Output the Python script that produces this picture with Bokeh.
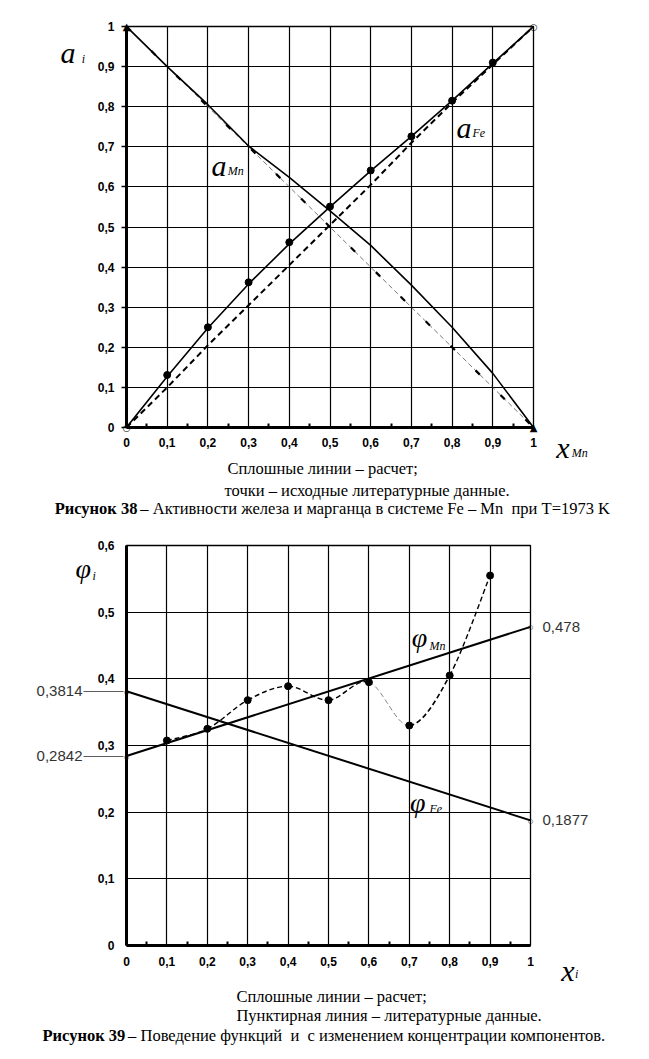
from bokeh.plotting import figure
from bokeh.layouts import column
from bokeh.models import Range1d, FixedTicker, CustomJSTickFormatter, Label, LinearAxis
from bokeh.embed import file_html
from bokeh.resources import INLINE

# ---------------- data: Figure 38 (activities) ----------------
x_mn = [0.0, 0.1, 0.2, 0.3, 0.4, 0.5, 0.6, 0.7, 0.8, 0.9, 1.0]
a_fe_calc = [0.0, 0.127, 0.248, 0.358, 0.458, 0.550, 0.640, 0.726, 0.815, 0.908, 1.0]
a_fe_ideal = [0.0, 0.100, 0.205, 0.305, 0.405, 0.505, 0.605, 0.710, 0.810, 0.905, 1.0]
a_mn_calc = [1.0, 0.900, 0.805, 0.702, 0.624, 0.540, 0.454, 0.355, 0.250, 0.135, 0.0]
a_mn_ideal = [1.0, 0.9, 0.8, 0.7, 0.6, 0.5, 0.4, 0.3, 0.2, 0.1, 0.0]
x_pts = [0.1, 0.2, 0.3, 0.4, 0.5, 0.6, 0.7, 0.8, 0.9]
a_fe_lit = [0.131, 0.250, 0.362, 0.462, 0.551, 0.641, 0.726, 0.815, 0.910]
x_open = [0.0, 1.0]
a_open = [0.0, 1.0]
x_tri = [0.0, 1.0]
a_tri = [1.0, 0.0]

# ---------------- data: Figure 39 (phi functions) ----------------
x_line = [0.0, 1.0]
phi_mn_calc = [0.2842, 0.478]
phi_fe_calc = [0.3814, 0.1877]
x_lit = [0.1, 0.2, 0.3, 0.4, 0.5, 0.6, 0.7, 0.8, 0.9]
phi_lit = [0.3075, 0.325, 0.368, 0.389, 0.368, 0.395, 0.330, 0.405, 0.555]

# ---------------- ticks ----------------
x_ticks = [0.0, 0.1, 0.2, 0.3, 0.4, 0.5, 0.6, 0.7, 0.8, 0.9, 1.0]
x_minor = [0.05, 0.15, 0.25, 0.35, 0.45, 0.55, 0.65, 0.75, 0.85, 0.95]
y1_ticks = [0.0, 0.1, 0.2, 0.3, 0.4, 0.5, 0.6, 0.7, 0.8, 0.9, 1.0]
y2_ticks = [0.0, 0.1, 0.2, 0.3, 0.4, 0.5, 0.6]

tick_code = """
if (Math.abs(tick) < 1e-9) return '0';
if (Math.abs(tick - 1) < 1e-9) return '1';
return tick.toFixed(1).replace('.', ',');
"""
value_code = "return tick.toString().replace('.', ',');"

SERIF = "Liberation Serif"
SANS = "Liberation Sans"
CAP = 16.5
NB = "\u00a0"


def lab(p, x, y, text, size, style="normal", font=SERIF, align="left",
        baseline="alphabetic", color="black", place="center"):
    p.add_layout(Label(x=x, y=y, text=text, text_font=font,
                       text_font_size=f"{size}px", text_font_style=style,
                       text_align=align, text_baseline=baseline,
                       text_color=color), place)


def style_axes(p, yticks, ytick_out, ystand, xstand):
    xa = p.xaxis[0]
    ya = p.yaxis[0]
    xt = FixedTicker(ticks=x_ticks, minor_ticks=x_minor)
    yt = FixedTicker(ticks=yticks)
    xa.ticker = xt
    ya.ticker = yt
    p.xgrid[0].ticker = xt
    p.ygrid[0].ticker = yt
    for ax in (xa, ya):
        ax.formatter = CustomJSTickFormatter(code=tick_code)
        ax.axis_line_width = 3
        ax.axis_line_color = "black"
        ax.major_label_text_font = SANS
        ax.major_label_text_font_style = "bold"
        ax.major_label_text_font_size = "12px"
        ax.major_label_text_color = "black"
        ax.major_tick_line_color = "black"
        ax.minor_tick_line_color = "black"
    xa.major_tick_in = 0
    xa.major_tick_out = 0
    xa.minor_tick_in = 4
    xa.minor_tick_out = 0
    xa.minor_tick_line_width = 2
    xa.major_label_standoff = xstand
    ya.major_tick_in = 0
    ya.major_tick_out = ytick_out
    ya.major_tick_line_width = 1.5
    ya.minor_tick_in = 0
    ya.minor_tick_out = 0
    ya.major_label_standoff = ystand
    p.grid.grid_line_color = "black"
    p.grid.grid_line_width = 1.2
    p.outline_line_color = "black"
    p.outline_line_width = 1.3
    p.background_fill_color = "white"
    p.border_fill_color = "white"


# ================= Figure 38 =================
p1 = figure(frame_width=407, frame_height=401, min_border_left=124,
            min_border_right=118, min_border_top=26, min_border_bottom=98,
            x_range=Range1d(0, 1), y_range=Range1d(0, 1),
            output_backend="svg", toolbar_location=None)
style_axes(p1, y1_ticks, ytick_out=5, ystand=7, xstand=10)

p1.line(x_mn, a_mn_ideal, line_color="#555555", line_width=0.8, line_dash="5 3")
p1.line(x_mn, a_mn_ideal, line_color="black", line_width=2.2, line_dash="6 29")
p1.line(x_mn, a_fe_ideal, line_color="black", line_width=2, line_dash="6 4")
p1.line(x_mn, a_fe_calc, line_color="black", line_width=1.6)
p1.line(x_mn, a_mn_calc, line_color="black", line_width=1.6)
p1.scatter(x_pts, a_fe_lit, size=7, color="black")
# edge markers as annotations in a side panel so the frame does not cut them
for xv, yv in zip(x_open, a_open):
    lab(p1, xv, yv, "○", 9, font="DejaVu Sans", align="center", baseline="middle", place="right")
for xv, yv in zip(x_tri, a_tri):
    lab(p1, xv, yv, "▲", 10, font="DejaVu Sans", align="center", baseline="middle", place="right")

lab(p1, -0.162, 0.935, "a", 30, "italic", place="left")
lab(p1, -0.110, 0.918, "i", 12, "italic", place="left")
lab(p1, 0.209, 0.653, "a", 30, "italic")
lab(p1, 0.249, 0.640, "Mn", 12, "italic")
lab(p1, 0.811, 0.748, "a", 30, "italic")
lab(p1, 0.850, 0.735, "Fe", 12, "italic")
lab(p1, 1.056, -0.050, "x", 30, "italic", place="right")
lab(p1, 1.094, -0.063, "Mn", 12, "italic", place="right")

lab(p1, 0.248, -0.102, "Сплошные линии – расчет;", CAP, baseline="middle", place="below")
lab(p1, 0.241, -0.157, "точки – исходные литературные данные.", CAP, baseline="middle", place="below")
lab(p1, 0.027, -0.202, "Рисунок 38", CAP, "bold", align="right", baseline="middle", place="above")
lab(p1, 0.034, -0.202, f"– Активности железа и марганца в системе Fe – Mn {NB}при T=1973 K",
    CAP, baseline="middle", place="below")

# ================= Figure 39 =================
p2 = figure(frame_width=404, frame_height=400, min_border_left=126,
            min_border_right=119, min_border_top=20, min_border_bottom=113,
            x_range=Range1d(0, 1), y_range=Range1d(0, 0.6),
            output_backend="svg", toolbar_location=None)
style_axes(p2, y2_ticks, ytick_out=0, ystand=12, xstand=11)

# value call-outs at x = 0 (with leader lines) and at x = 1
ax_l = LinearAxis(ticker=FixedTicker(ticks=[phi_fe_calc[0], phi_mn_calc[0]]),
                  formatter=CustomJSTickFormatter(code=value_code),
                  axis_line_color=None, major_tick_in=29, major_tick_out=11,
                  major_tick_line_width=0.8, major_tick_line_color="#333333",
                  minor_tick_in=0, minor_tick_out=0, major_label_standoff=1,
                  major_label_text_font=SANS, major_label_text_font_size="15px",
                  major_label_text_color="#333333")
p2.add_layout(ax_l, "left")
ax_r = LinearAxis(ticker=FixedTicker(ticks=[phi_mn_calc[1], phi_fe_calc[1]]),
                  formatter=CustomJSTickFormatter(code=value_code),
                  axis_line_color=None, major_tick_in=0, major_tick_out=0,
                  minor_tick_in=0, minor_tick_out=0, major_label_standoff=12,
                  major_label_text_font=SANS, major_label_text_font_size="15px",
                  major_label_text_color="#333333")
p2.add_layout(ax_r, "right")

p2.line(x_line, phi_mn_calc, line_color="black", line_width=2)
p2.line(x_line, phi_fe_calc, line_color="black", line_width=2)

# smooth dashed curve through the literature points (Catmull-Rom -> Bezier)
n = len(x_lit)
x0s, y0s, x1s, y1s, cx0s, cy0s, cx1s, cy1s = [], [], [], [], [], [], [], []
for i in range(n - 1):
    im1 = max(i - 1, 0)
    ip2 = min(i + 2, n - 1)
    x0s.append(x_lit[i]); y0s.append(phi_lit[i])
    x1s.append(x_lit[i + 1]); y1s.append(phi_lit[i + 1])
    cx0s.append(x_lit[i] + (x_lit[i + 1] - x_lit[im1]) / 6)
    cy0s.append(phi_lit[i] + (phi_lit[i + 1] - phi_lit[im1]) / 6)
    cx1s.append(x_lit[i + 1] - (x_lit[ip2] - x_lit[i]) / 6)
    cy1s.append(phi_lit[i + 1] - (phi_lit[ip2] - phi_lit[i]) / 6)
seg_w = [1.4, 1.4, 1.4, 1.4, 1.4, 0.8, 1.6, 1.4]
seg_c = ["black", "black", "black", "black", "black", "#666666", "black", "black"]
p2.bezier(x0=x0s, y0=y0s, x1=x1s, y1=y1s, cx0=cx0s, cy0=cy0s, cx1=cx1s, cy1=cy1s,
          line_color=seg_c, line_width=seg_w, line_dash="5 3")
p2.scatter(x_lit, phi_lit, size=7, color="black")
for xv, yv in [(0, phi_mn_calc[0]), (0, phi_fe_calc[0]), (1, phi_mn_calc[1]), (1, phi_fe_calc[1])]:
    lab(p2, xv, yv, "○", 6, font="DejaVu Sans", align="center", baseline="middle", place="right")

lab(p2, -0.126, 0.566, "φ", 28, "italic", place="left")
lab(p2, -0.084, 0.555, "i", 12, "italic", place="left")
lab(p2, 0.706, 0.462, "φ", 28, "italic")
lab(p2, 0.750, 0.449, "Mn", 12, "italic")
lab(p2, 0.702, 0.215, "φ", 28, "italic")
lab(p2, 0.750, 0.205, "Fe", 12, "italic")
lab(p2, 1.076, -0.037, "x", 30, "italic", place="right")
lab(p2, 1.110, -0.043, "i", 12, "italic", place="right")

lab(p2, 0.272, -0.0772, "Сплошные линии – расчет;", CAP, baseline="middle", place="below")
lab(p2, 0.272, -0.1056, "Пунктирная линия – литературные данные.", CAP, baseline="middle", place="below")
lab(p2, -0.003, -0.1356, "Рисунок 39", CAP, "bold", align="right", baseline="middle", place="below")
lab(p2, 0.004, -0.1356, f"– Поведение функций {NB}и {NB}с изменением концентрации компонентов.",
    CAP, baseline="middle", place="below")

layout = column(p1, p2, spacing=0)
open("out.html", "w").write(file_html(layout, INLINE))
